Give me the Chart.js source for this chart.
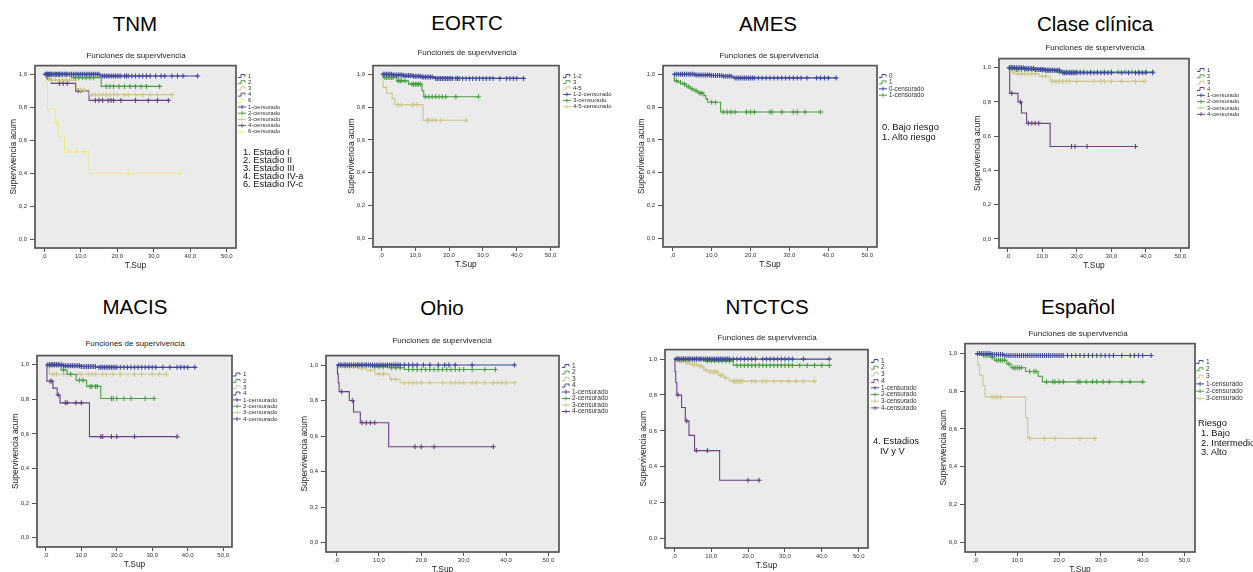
<!DOCTYPE html>
<html><head><meta charset="utf-8">
<script src="https://cdn.jsdelivr.net/npm/chart.js@4.4.1/dist/chart.umd.min.js"></script>
<style>
html,body{margin:0;padding:0;background:#fff;width:1253px;height:572px;overflow:hidden;position:relative;font-family:"Liberation Sans",Arial,Helvetica,sans-serif;color:#111}
canvas{position:absolute}
.t{position:absolute;white-space:nowrap;transform:translate(-50%,-50%);line-height:1}
.n{position:absolute;white-space:nowrap;transform:translateY(-50%);line-height:1;color:#111}
</style></head><body>
<script>
// ---------- tick labels ----------
const X_TICKS = [0,10,20,30,40,50];
const X_TICK_LABELS = [',0','10,0','20,0','30,0','40,0','50,0'];
const Y_TICKS = [0,0.2,0.4,0.6,0.8,1.0];
const Y_TICK_LABELS = ['0,0','0,2','0,4','0,6','0,8','1,0'];

// ---------- TNM ----------
const TNM_GROUPS = ['1','2','3','4','6'];
const TNM_NOTES = ['1. Estadio I','2. Estadio II','3. Estadio III','4. Estadio IV-a','6. Estadio IV-c'];
const tnm1Steps = [[0,1],[15.3,0.99],[42,0.99]];
const tnm1Cens = [0.3,0.6,0.9,1.2,1.5,1.8,2.1,2.5,3,3.4,3.8,4.2,4.6,5,5.5,6,6.5,7,7.5,8,8.5,9,9.5,10,10.5,11,11.5,12,12.5,13,13.5,14,14.5,15,16,16.5,17,17.5,18,18.5,19,19.5,20,20.5,21,22,22.5,23,24,25,26,27,28,29,30.5,32,33,35,36.5,38,42];
const tnm2Steps = [[0,1],[7.5,0.98],[15.6,0.927],[31.6,0.927]];
const tnm2Cens = [1,2,3,4,5,6,8.5,9.5,10.5,11.5,12.5,13.5,17,18,19,20.5,22,23.5,25,26.5,28,31.6];
const tnm3Steps = [[0,1],[1.2,0.965],[8.8,0.905],[12.4,0.877],[35,0.877]];
const tnm3Cens = [2,3,4,5,6,7,10,11,13,14,15,16,17,18,19,20,22,23,25,27,29,31,35];
const tnm4Steps = [[0,1],[0.8,0.972],[2,0.945],[8.6,0.9],[12.3,0.842],[34,0.842]];
const tnm4Cens = [4.2,5.2,6.3,9.3,10,14,15,16,17.5,18.3,19,21,25,28.5,31,34];
const tnm6Steps = [[0,1],[0.4,0.95],[0.9,0.79],[3,0.705],[3.8,0.62],[5.6,0.53],[12.3,0.4],[37.2,0.4]];
const tnm6Cens = [3.5,7,9,11,23,37.2];

// ---------- EORTC ----------
const EORTC_GROUPS = ['1-2','3','4-5'];
const eo12Steps = [[0,1],[3.5,0.996],[6.5,0.992],[9.5,0.988],[12,0.984],[15.7,0.975],[42,0.975]];
const eo12Cens = [0.5,1,1.5,2,2.5,3,3.5,4,4.5,5,5.5,6,6.5,7,7.5,8,8.5,9,9.5,10,10.5,11,11.5,12,12.5,13,13.5,14,14.5,15,16,16.5,17,17.5,18,18.5,19,19.5,20,20.5,21,22,22.5,23,24,25,26,27,28,29,30,31,32,33,35,37,38,39,40,42];
const eo3Steps = [[0,1],[0.6,0.98],[4.5,0.96],[8,0.94],[12,0.9],[12.5,0.863],[28.7,0.863]];
const eo3Cens = [1,1.5,2,2.5,3,3.5,5,5.5,6,7,9,9.5,10,10.5,11,11.5,13,14,15,16,17,18,19,22,28.7];
const eo45Steps = [[0,1],[0.5,0.92],[1.5,0.885],[3.2,0.85],[4,0.815],[12.3,0.72],[25,0.72]];
const eo45Cens = [5,6,9,9.5,10.5,13.5,14,15,16,17.5,25];

// ---------- AMES ----------
const AMES_GROUPS = ['0','1'];
const AMES_NOTES = ['0. Bajo riesgo','1. Alto riesgo'];
const am0Steps = [[0,1],[6,0.996],[10,0.993],[13,0.988],[15.5,0.978],[42,0.978]];
const am0Cens = [0.5,1,1.5,2,2.5,3,3.5,4,4.5,5,5.5,6,6.5,7,7.5,8,8.5,9,9.5,10,10.5,11,11.5,12,12.5,13,13.5,14,14.5,15,16,16.5,17,17.5,18,18.5,19,19.5,20,20.5,21,22,23,24,25,26,27,28,29,30,31,32,33,34.5,37,38,39,40,42];
const am1Steps = [[0,1],[0.4,0.96],[1.5,0.95],[2.5,0.94],[3.5,0.925],[4.5,0.91],[5.5,0.9],[6.5,0.885],[8,0.87],[8.5,0.85],[9,0.83],[12.3,0.77],[38,0.77]];
const am1Cens = [1,2,3,4,5,6,7,7.5,10,11,13,14,15,16,19,20,21,25,25.5,28,31,32,34,38];

// ---------- Clase clínica ----------
const CLASE_GROUPS = ['1','2','3','4'];
const cl1Steps = [[0,1],[5,0.995],[8,0.99],[11,0.985],[15.5,0.97],[42,0.97]];
const cl1Cens = [0.5,1,1.5,2,2.5,3,3.5,4,4.5,5,5.5,6,6.5,7,7.5,8,8.5,9,9.5,10,10.5,11,11.5,12,12.5,13,13.5,14,14.5,15,16,16.5,17,17.5,18,18.5,19,19.5,20,21,22,23,24,25,26,27,28,29,30,33,35,37,38,39,40,42];
const cl2Steps = [[0,1],[2,0.99],[9,0.985],[14,0.975],[42,0.975]];
const cl2Cens = [0.5,1,1.5,2.5,3,4,5,6,7,8,10,11,12,13,15,16,17,18,19,20,21,22,24,26,28,30,32,34,36,38,40,42];
const cl3Steps = [[0,1],[0.8,0.975],[2,0.965],[9,0.95],[12.3,0.92],[39.5,0.92]];
const cl3Cens = [1.5,3,4,5,6,7,8,10,11,13,14,15,16,17,18,20,25,27,28,30,33,37,39.5];
const cl4Steps = [[0,1],[0.6,0.85],[3,0.8],[4,0.735],[5.5,0.675],[12.3,0.54],[37,0.54]];
const cl4Cens = [1.2,3.7,6,7,8,9,18.5,19.5,23,37];

// ---------- MACIS ----------
const MACIS_GROUPS = ['1','2','3','4'];
const ma1Steps = [[0,1],[5,0.995],[10,0.99],[14.5,0.985],[42,0.985]];
const ma1Cens = [0.5,1,1.5,2,2.5,3,3.5,4,4.5,5,5.5,6,6.5,7,7.5,8,8.5,9,9.5,10,10.5,11,11.5,12,12.5,13,13.5,14,15,15.5,16,16.5,17,17.5,18,18.5,19,19.5,20,21,22,23,24,25,26,27,28,29,30,31,33,35,37,38,39,40,42];
const ma2Steps = [[0,1],[4.3,0.97],[6,0.945],[8.5,0.91],[11.5,0.875],[15.5,0.805],[30.5,0.805]];
const ma2Cens = [1,1.5,2,2.5,3,3.5,5,7,9.5,10.5,12.5,13,14,14.5,18.5,19,20,22,24,28,30.5];
const ma3Steps = [[0,1],[1,0.945],[34,0.945]];
const ma3Cens = [2,3,5,6,7,9,10,12,13,14,16,17,19,21,25,27,30,32,34];
const ma4Steps = [[0,1],[0.3,0.905],[2,0.865],[3.2,0.825],[4,0.78],[12.3,0.585],[37,0.585]];
const ma4Cens = [1.2,1.7,3.5,5.5,6,8.5,10,15.5,16,18.5,20,25,37];

// ---------- Ohio ----------
const OHIO_GROUPS = ['1','2','3','4'];
const oh1Steps = [[0,1],[42,1]];
const oh1Cens = [0.5,1,1.5,2,2.5,3,3.5,4,4.5,5,5.5,6,6.5,7,7.5,8,8.5,9,9.5,10,10.5,11,11.5,12,12.5,13,13.5,14,14.5,15,16,17,18,19,20.5,22,24,25.5,26.5,28,32,42];
const oh2Steps = [[0,1],[8,0.99],[12,0.985],[16,0.975],[37.5,0.975]];
const oh2Cens = [1,2,3,4,5,6,7,9,10,11,13,14,15,17,18,19,20,21,22,23,24,25,26,27,28,29,30,32,35,37.5];
const oh3Steps = [[0,1],[1,0.99],[5,0.98],[7,0.97],[9,0.95],[12.5,0.92],[15,0.9],[42,0.9]];
const oh3Cens = [2,3,4,6,8,10,11,13,14,16,17,18,19,20,22,25,27,28,29,30,32,33,35,37,38,39,40,42];
const oh4Steps = [[0,1],[0.2,0.95],[0.4,0.9],[0.6,0.85],[3,0.8],[4,0.735],[5.6,0.675],[12.3,0.54],[37,0.54]];
const oh4Cens = [1.2,3.7,6,7,8,9,18.5,20,23,37];

// ---------- NTCTCS ----------
const NTCTCS_GROUPS = ['1','2','3','4'];
const NTCTCS_NOTES = ['4. Estadios','IV y V'];
const nt1Steps = [[0,1],[42,1]];
const nt1Cens = [0.5,1,1.5,2,2.5,3,3.5,4,4.5,5,5.5,6,6.5,7,7.5,8,8.5,9,9.5,10,10.5,11,11.5,12,12.5,13,13.5,14,14.5,15,16,17,18,19,20,21,22,24,25,26,27,28,29,30,31,32,35,42];
const nt2Steps = [[0,1],[8,0.99],[16,0.965],[42,0.965]];
const nt2Cens = [1,2,3,4,5,6,7,9,10,11,12,13,14,15,17,18,19,20,21,22,23,24,25,26,27,28,29,30,31,32,34,36,38,40,42];
const nt3Steps = [[0,1],[1,0.99],[3,0.98],[4.5,0.97],[6.5,0.96],[8,0.94],[9,0.93],[12,0.91],[13.5,0.895],[15,0.877],[38,0.877]];
const nt3Cens = [0.5,1.5,2,2.5,3.5,4,5,5.5,6,7,7.5,8.5,9.5,10,10.5,11,11.5,12.5,13,14,16,16.5,17,17.5,18,18.5,21,22,24,25,27,29,31,33,35,38];
const nt4Steps = [[0,1],[0.2,0.93],[0.4,0.87],[0.7,0.8],[2,0.73],[3,0.655],[4,0.575],[5.5,0.49],[12.3,0.325],[23,0.325]];
const nt4Cens = [1,3.4,6,9,20,23];

// ---------- Español ----------
const ESP_GROUPS = ['1','2','3'];
const ESP_NOTES = ['Riesgo','1. Bajo','2. Intermedio','3. Alto'];
const es1Steps = [[0,1],[4,0.995],[7,0.99],[42,0.99]];
const es1Cens = [0.5,1,1.5,2,2.5,3,3.5,4,4.5,5,5.5,6,6.5,7,7.5,8,8.5,9,9.5,10,10.5,11,11.5,12,12.5,13,13.5,14,14.5,15,15.5,16,16.5,17,17.5,18,18.5,19,19.5,20,20.5,21,22,23,24,25,26,27,28,29,30,31,32,33,35,37,38,39,40,42];
const es2Steps = [[0,1],[1.5,0.99],[3.5,0.98],[4.5,0.965],[7.5,0.945],[8.5,0.925],[12,0.905],[15,0.88],[16,0.85],[40,0.85]];
const es2Cens = [0.5,1,2,2.5,3,4,5,5.5,6,6.5,7,8,9,9.5,10,10.5,11,13,14,14.5,17,18.5,19,20,21,24.5,25,26.5,28,29,30.5,32,35,37,40];
const es3Steps = [[0,1],[0.5,0.94],[1,0.885],[1.8,0.83],[2.3,0.77],[12,0.66],[12.5,0.55],[28.5,0.55]];
const es3Cens = [4,4.7,5.3,6,13,16.5,19,25,28.5];

// ---------- styles / layout ----------
const FONT = '"Liberation Sans", Arial, Helvetica, sans-serif';
const BLUE='#3f479e', GREEN='#4a9e43', BEIGE='#cdc78b', PURPLE='#684283', YELLOW='#eeea88';
const X_MIN=-2.5, X_MAX=52.5, Y_MIN=-0.053, Y_MAX=1.053;
const YW=30, TP=2, XH=26, RP=70;

function survAt(steps,t){let s=steps[0][1];for(const [x,y] of steps){if(x<=t)s=y;}return s;}

const PANELS = [
 {title:'TNM', plot:[35,61,236,248], tt:[135,24], st:[136,56], leg:[238,76,6.2,5.8], groups:TNM_GROUPS,
  series:[[tnm1Steps,tnm1Cens,BLUE],[tnm2Steps,tnm2Cens,GREEN],[tnm3Steps,tnm3Cens,BEIGE],[tnm4Steps,tnm4Cens,PURPLE],[tnm6Steps,tnm6Cens,YELLOW]],
  notes:TNM_NOTES, noteX:[243,243,243,243,243], noteY:[152.5,160.7,168.9,177.1,185.3]},
 {title:'EORTC', plot:[373,61,559,247], tt:[467,23], st:[467,53], leg:[563,76,6.15,6], groups:EORTC_GROUPS,
  series:[[eo12Steps,eo12Cens,BLUE],[eo3Steps,eo3Cens,GREEN],[eo45Steps,eo45Cens,BEIGE]], notes:[]},
 {title:'AMES', plot:[663,61,877,247], tt:[768,24], st:[769,56], leg:[879,76,6.4,6.3], groups:AMES_GROUPS,
  series:[[am0Steps,am0Cens,BLUE],[am1Steps,am1Cens,GREEN]],
  notes:AMES_NOTES, noteX:[882,882], noteY:[128.3,138]},
 {title:'Clase clínica', plot:[999,54,1189,248], tt:[1095,24], st:[1095,48], leg:[1197,70,6.33,5.8], groups:CLASE_GROUPS,
  series:[[cl1Steps,cl1Cens,BLUE],[cl2Steps,cl2Cens,GREEN],[cl3Steps,cl3Cens,BEIGE],[cl4Steps,cl4Cens,PURPLE]], notes:[]},
 {title:'MACIS', plot:[37,351,232,547], tt:[135,307], st:[135,344], leg:[233,374.5,6.35,6.2], groups:MACIS_GROUPS,
  series:[[ma1Steps,ma1Cens,BLUE],[ma2Steps,ma2Cens,GREEN],[ma3Steps,ma3Cens,BEIGE],[ma4Steps,ma4Cens,PURPLE]], notes:[]},
 {title:'Ohio', plot:[326,351,559,552], tt:[442,308], st:[442,341], leg:[562,366,6.5,6.5], groups:OHIO_GROUPS,
  series:[[oh1Steps,oh1Cens,BLUE],[oh2Steps,oh2Cens,GREEN],[oh3Steps,oh3Cens,BEIGE],[oh4Steps,oh4Cens,PURPLE]], notes:[]},
 {title:'NTCTCS', plot:[665,345,868,548], tt:[767,307], st:[767,338], leg:[871,361,6.7,6.4], groups:NTCTCS_GROUPS,
  series:[[nt1Steps,nt1Cens,BLUE],[nt2Steps,nt2Cens,GREEN],[nt3Steps,nt3Cens,BEIGE],[nt4Steps,nt4Cens,PURPLE]],
  notes:NTCTCS_NOTES, noteX:[873,880], noteY:[441.7,452.3]},
 {title:'Español', plot:[965,339,1195,552], tt:[1078,307], st:[1078,333.5], leg:[1196,362,7.3,6.6], groups:ESP_GROUPS,
  series:[[es1Steps,es1Cens,BLUE],[es2Steps,es2Cens,GREEN],[es3Steps,es3Cens,BEIGE]],
  notes:ESP_NOTES, noteX:[1198,1201,1201,1201], noteY:[424.3,434,443.5,453.3]}
];

const kmPlugin = {
  id:'km',
  beforeDraw(chart){
    const a=chart.chartArea, c=chart.ctx;
    c.save(); c.fillStyle='#ebebeb'; c.fillRect(a.left,a.top,a.right-a.left,a.bottom-a.top); c.restore();
  },
  afterDraw(chart){
    const a=chart.chartArea, c=chart.ctx;
    c.save(); c.strokeStyle='#555'; c.lineWidth=1.7;
    c.strokeRect(a.left,a.top,a.right-a.left,a.bottom-a.top);
    const L=chart.options.plugins.km;
    c.font=L.fs+'px '+FONT; c.textBaseline='middle'; c.lineWidth=1;
    L.items.forEach((it,i)=>{
      const x=L.x, y=L.y+i*L.dy;
      c.strokeStyle=it.color; c.beginPath();
      if(it.kind==='line'){c.moveTo(x,y+1.5);c.lineTo(x+3,y+1.5);c.lineTo(x+3,y-1.5);c.lineTo(x+7,y-1.5);c.lineTo(x+7,y+0.5);}
      else {c.moveTo(x,y);c.lineTo(x+8,y);c.moveTo(x+4,y-2);c.lineTo(x+4,y+2);}
      c.stroke();
      c.fillStyle='#333'; c.fillText(it.text,x+10,y);
    });
    c.restore();
  }
};

function addText(cls,txt,x,y,size,color){
  const d=document.createElement('div'); d.className=cls; d.textContent=txt;
  d.style.left=x+'px'; d.style.top=y+'px'; d.style.fontSize=size+'px'; if(color)d.style.color=color;
  document.body.appendChild(d);
}

PANELS.forEach(p=>{
  const [l,t,r,b]=p.plot;
  const cl=l-YW, ct=t-TP, w=(r-l)+YW+RP, h=(b-t)+TP+XH;
  const cv=document.createElement('canvas');
  cv.width=w; cv.height=h; cv.style.left=cl+'px'; cv.style.top=ct+'px'; cv.style.width=w+'px'; cv.style.height=h+'px';
  document.body.appendChild(cv);
  const datasets=[];
  p.series.forEach(([steps,cens,color])=>{
    datasets.push({type:'scatter',data:cens.map(x=>({x,y:survAt(steps,x)})),showLine:false,pointStyle:'cross',pointRadius:2.5,pointHoverRadius:2.5,pointBorderWidth:1.1,borderColor:color,backgroundColor:color});
    datasets.push({type:'line',data:steps.map(([x,y])=>({x,y})),stepped:true,borderColor:color,borderWidth:1.1,pointRadius:0,pointHoverRadius:0,fill:false});
  });
  const items=[];
  p.groups.forEach((g,i)=>items.push({text:g,color:p.series[i][2],kind:'line'}));
  p.groups.forEach((g,i)=>items.push({text:g+'-censurado',color:p.series[i][2],kind:'cross'}));
  new Chart(cv,{
    type:'scatter',
    data:{datasets},
    plugins:[kmPlugin],
    options:{
      responsive:false, animation:false, devicePixelRatio:1, events:[],
      layout:{padding:{top:TP,right:RP,left:0,bottom:0}},
      plugins:{legend:{display:false},tooltip:{enabled:false},title:{display:false},
        km:{x:p.leg[0]-cl,y:p.leg[1]-ct,dy:p.leg[2],fs:p.leg[3],items}},
      scales:{
        x:{type:'linear',min:X_MIN,max:X_MAX,
          afterBuildTicks:s=>{s.ticks=X_TICKS.map(v=>({value:v}));},
          afterFit:s=>{s.height=XH;},
          ticks:{autoSkip:false,maxRotation:0,padding:1,color:'#333',font:{size:6,family:FONT},callback:(v,i)=>X_TICK_LABELS[i]},
          grid:{drawOnChartArea:false,drawTicks:true,tickLength:4,color:'#555',lineWidth:1},
          border:{display:false},
          title:{display:true,text:'T.Sup',color:'#222',font:{size:8.4,family:FONT},padding:{top:0,bottom:3}}},
        y:{type:'linear',min:Y_MIN,max:Y_MAX,
          afterBuildTicks:s=>{s.ticks=Y_TICKS.map(v=>({value:v}));},
          afterFit:s=>{s.width=YW;},
          ticks:{autoSkip:false,padding:3,color:'#333',font:{size:6,family:FONT},callback:(v,i)=>Y_TICK_LABELS[i]},
          grid:{drawOnChartArea:false,drawTicks:true,tickLength:5,color:'#555',lineWidth:1},
          border:{display:false},
          title:{display:true,text:'Supervivencia acum',color:'#222',font:{size:8.4,family:FONT},padding:{top:4,bottom:0}}}
      }
    }
  });
  addText('t',p.title,p.tt[0],p.tt[1],20.5,'#000');
  addText('t','Funciones de supervivencia',p.st[0],p.st[1],8,'#222');
  (p.notes||[]).forEach((n,i)=>addText('n',n,p.noteX[i],p.noteY[i],9.3,'#111'));
});
</script>
</body></html>
